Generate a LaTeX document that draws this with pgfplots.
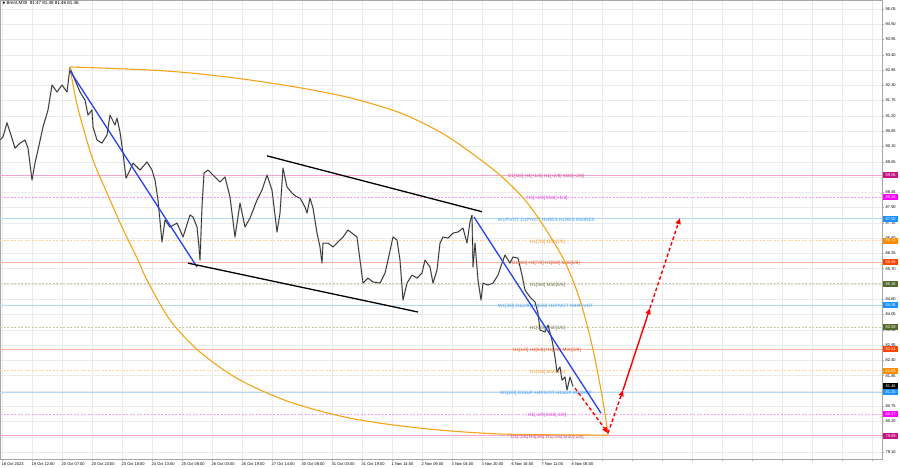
\documentclass[border=0pt]{standalone}
\usepackage{fontspec}
\setmainfont{Liberation Sans}
\newfontfamily\dejavu{DejaVu Sans}
\usepackage{pgfplots}
\usepackage{pgfplotstable}
\pgfplotsset{compat=1.18}
\usetikzlibrary{arrows.meta}

\definecolor{mvr}{HTML}{C71585}
\definecolor{mvrline}{HTML}{F5A3CF}
\definecolor{mvrtxt}{HTML}{D0479C}
\definecolor{mag}{HTML}{FF00FF}
\definecolor{magline}{HTML}{F59AF5}
\definecolor{magtxt}{HTML}{E23BE2}
\definecolor{dblue}{HTML}{1E90FF}
\definecolor{dblueline}{HTML}{B5D8FA}
\definecolor{dbluetxt}{HTML}{3C9CF5}
\definecolor{dor}{HTML}{FF8C00}
\definecolor{dorline}{HTML}{FFD3A0}
\definecolor{dortxt}{HTML}{F29A30}
\definecolor{ored}{HTML}{FF4500}
\definecolor{oredline}{HTML}{F8B3A0}
\definecolor{oredtxt}{HTML}{E8542A}
\definecolor{olv}{HTML}{556B2F}
\definecolor{olvline}{HTML}{C6CAAA}
\definecolor{olvtxt}{HTML}{6D7B45}
\definecolor{arc}{HTML}{F5A418}
\definecolor{tl}{HTML}{2742E6}

\pgfplotstableread{
x p
0 90.33
3 90.44
7 90.95
10 90.62
15 90.04
20 90.22
25 90.33
28 90.04
32 88.89
35 89.50
38 89.97
43 90.80
48 91.41
52 92.31
57 92.06
62 92.31
67 92.06
70 92.93
75 92.49
80 92.06
85 91.77
88 91.23
92 91.41
93 90.80
97 90.33
102 90.22
107 90.51
110 91.23
115 90.87
117 91.12
120 90.62
123 89.86
126 88.96
130 89.25
133 89.50
140 89.25
147 89.54
152 89.25
155 88.89
158 88.17
162 86.66
165 87.45
170 87.20
177 87.34
183 86.84
190 87.63
193 87.56
197 87.20
199 86.48
200 86.01
202 87.92
204 89.14
208 89.25
213 89.07
220 88.82
225 89.00
230 88.28
235 86.84
240 88.06
245 87.20
250 87.52
257 88.17
262 88.53
267 89.07
272 88.53
277 87.02
280 87.70
283 89.32
287 88.64
292 88.42
296 88.30
300 88.24
305 87.92
307 87.70
310 88.24
313 87.88
317 86.98
320 86.48
322 85.90
323 86.62
328 86.62
333 86.48
338 86.66
343 86.84
348 87.09
352 86.98
357 86.84
360 86.01
363 85.18
368 85.36
373 85.22
380 85.18
385 85.54
388 86.01
393 86.84
397 86.73
400 86.01
403 84.57
407 85.18
412 85.47
417 85.36
422 85.54
425 86.01
430 85.76
433 85.18
437 85.65
440 86.62
443 86.84
448 86.80
453 86.98
458 87.02
463 87.16
467 86.62
470 87.38
472 87.63
473 85.76
475 86.62
478 85.29
481 84.57
483 85.18
488 85.11
493 85.18
498 85.47
502 85.90
505 86.19
510 85.90
513 86.12
518 86.08
522 85.47
525 84.93
530 84.68
535 84.50
538 84.10
540 83.49
545 83.42
548 83.67
552 83.13
555 82.52
557 81.98
560 82.16
562 81.69
565 81.80
567 81.33
570 81.80
573 81.46
}\price

\begin{document}
\begin{tikzpicture}[font=\fontsize{4}{5}\selectfont]
\useasboundingbox (0,0) rectangle (900pt,468pt);
\begin{axis}[
  at={(0pt,9pt)}, anchor=south west, scale only axis,
  width=882pt, height=459pt,
  xmin=0, xmax=882, ymin=78.85, ymax=95.37,
  axis line style={draw=gray!70, line width=0.5pt},
  xtick={2,32,...,872},
  xticklabels={18 Oct 2023,19 Oct 12:00,20 Oct 07:00,20 Oct 23:00,23 Oct 18:00,24 Oct 13:00,25 Oct 08:00,26 Oct 03:00,26 Oct 19:00,27 Oct 14:00,30 Oct 08:00,31 Oct 03:00,31 Oct 19:00,1 Nov 14:00,2 Nov 09:00,3 Nov 04:00,3 Nov 20:00,6 Nov 16:00,7 Nov 11:00,8 Nov 06:00,{},{},{},{},{},{},{},{},{},{}},
  xticklabel style={anchor=north west, inner sep=0pt, yshift=-1.5pt, xshift=-0.5pt},
  ytick={79.10,79.65,80.20,80.75,81.30,81.85,82.40,82.95,83.50,84.05,84.60,85.15,85.70,86.25,86.80,87.35,87.90,88.45,89.00,89.55,90.10,90.65,91.20,91.75,92.30,92.85,93.40,93.95,94.50,95.05},
  ytick pos=right, xtick pos=lower,
  yticklabel pos=right,
  yticklabel style={anchor=west, inner sep=0pt, xshift=1.5pt,
    /pgf/number format/fixed, /pgf/number format/precision=2,
    /pgf/number format/fixed zerofill},
  /pgf/number format/assume math mode=true,
  grid=major, major grid style={draw=gray!16, line width=0.4pt},
  tick style={draw=gray!70, line width=0.4pt}, major tick length=2pt, tick align=outside,
  clip=true,
]
% --- level lines
\addplot[mvrline, line width=0.7pt] coordinates {(0,89.06) (882,89.06)};
\addplot[magline, line width=0.6pt, dash pattern=on 2pt off 1.5pt] coordinates {(0,88.28) (882,88.28)};
\addplot[dblueline, line width=0.8pt] coordinates {(0,87.50) (882,87.50)};
\addplot[dorline, line width=0.6pt, dash pattern=on 2pt off 1.5pt] coordinates {(0,86.71) (882,86.71)};
\addplot[oredline, line width=0.7pt] coordinates {(0,85.94) (882,85.94)};
\addplot[olvline, line width=0.6pt, dash pattern=on 2pt off 1.5pt] coordinates {(0,85.16) (882,85.16)};
\addplot[dblueline, line width=0.8pt] coordinates {(0,84.38) (882,84.38)};
\addplot[olvline, line width=0.6pt, dash pattern=on 2pt off 1.5pt] coordinates {(0,83.59) (882,83.59)};
\addplot[oredline, line width=0.7pt] coordinates {(0,82.81) (882,82.81)};
\addplot[dorline, line width=0.6pt, dash pattern=on 2pt off 1.5pt] coordinates {(0,82.03) (882,82.03)};
\addplot[dblueline, line width=0.8pt] coordinates {(0,81.25) (882,81.25)};
\addplot[magline, line width=0.6pt, dash pattern=on 2pt off 1.5pt] coordinates {(0,80.47) (882,80.47)};
\addplot[mvrline, line width=0.7pt] coordinates {(0,79.69) (882,79.69)};

% --- level labels
\begin{scope}[every node/.style={anchor=west, inner sep=0pt, yshift=-1.3pt, font=\fontsize{4.7}{5}\selectfont}]
\node[text=mvrtxt] at (axis cs:508,89.06) {D1[5/8] H4[+1/8] H1[+2/8] M30[+2/8]};
\node[text=magtxt] at (axis cs:527,88.28) {H1[+1/8] M30[+1/8]};
\node[text=dbluetxt] at (axis cs:498,87.50) {W1PIVOT D1PIVOT H4RES H1RES M30RES};
\node[text=dortxt] at (axis cs:530,86.71) {H1[7/8] M30[7/8]};
\node[text=oredtxt] at (axis cs:512,85.94) {D1[3/8] H4[7/8] H1[6/8] M30[6/8]};
\node[text=olvtxt] at (axis cs:530,85.16) {H1[5/8] M30[5/8]};
\node[text=dbluetxt] at (axis cs:498,84.38) {W1[3/8] D1[2/8] H4[6/8] H1PIVOT M30PIVOT};
\node[text=olvtxt] at (axis cs:530,83.59) {H1[3/8] M30[3/8]};
\node[text=oredtxt] at (axis cs:513,82.81) {D1[1/8] H4[5/8] H1[2/8] M30[2/8]};
\node[text=dortxt] at (axis cs:530,82.03) {H1[1/8] M30[1/8]};
\node[text=dbluetxt] at (axis cs:500,81.25) {W1[2/8] D1SUP H4PIVOT H1SUP M30SUP};
\node[text=magtxt] at (axis cs:528,80.47) {H1[-1/8] M30[-1/8]};
\node[text=mvrtxt] at (axis cs:511,79.69) {D1[-1/8] H4[3/8] H1[-2/8] M30[-2/8]};
\end{scope}

% --- price series
\addplot[gray!55, line width=1.5pt, line join=round] table[x=x, y=p] {\price};
\addplot[black!85, line width=0.65pt, line join=round] table[x=x, y=p] {\price};

% --- orange arcs
\addplot[arc, line width=1.1pt, smooth] coordinates {(70,92.96) (150,92.85) (200,92.71) (250,92.49) (300,92.21) (350,91.85) (400,91.31) (440,90.62) (470,89.90) (500,89.07) (525,88.17) (545,87.16) (565,85.94) (580,84.57) (592,82.95) (601,81.33) (606,80.25) (608,79.71)};
\addplot[arc, line width=1.1pt, smooth] coordinates {(70,92.93) (76,91.77) (83,90.80) (93,89.61) (107,88.42) (122,87.20) (138,86.01) (147,85.29) (170,83.85) (200,82.70) (240,81.69) (290,80.90) (350,80.32) (420,79.96) (500,79.75) (608,79.71)};

% --- trend lines
\addplot[tl, line width=1.3pt] coordinates {(70,92.82) (197,85.76)};
\addplot[tl, line width=1.3pt] coordinates {(474,87.56) (601,80.50)};
\addplot[black, line width=1.3pt] coordinates {(188,85.90) (418,84.14)};
\addplot[black, line width=1.3pt] coordinates {(267,89.76) (482,87.75)};

% --- red projection arrows
\addplot[red, line width=1.4pt, dash pattern=on 3.5pt off 2.5pt, -{Triangle[length=6pt,width=5pt]}] coordinates {(575,81.40) (608,79.78)};
\addplot[red, line width=1.4pt, dash pattern=on 3.5pt off 2.5pt, -{Triangle[length=6pt,width=5pt]}] coordinates {(608,79.78) (623,81.33)};
\addplot[red, line width=1.4pt, -{Triangle[length=6pt,width=5pt]}] coordinates {(623,81.33) (650,84.28)};
\addplot[red, line width=1.4pt, dash pattern=on 3.5pt off 2.5pt, -{Triangle[length=6pt,width=5pt]}] coordinates {(650,84.28) (680,87.52)};

% anchors for price boxes
\coordinate (b1) at (axis cs:882,89.06);
\coordinate (b2) at (axis cs:882,88.28);
\coordinate (b3) at (axis cs:882,87.50);
\coordinate (b4) at (axis cs:882,86.71);
\coordinate (b5) at (axis cs:882,85.94);
\coordinate (b6) at (axis cs:882,85.16);
\coordinate (b7) at (axis cs:882,84.38);
\coordinate (b8) at (axis cs:882,83.59);
\coordinate (b9) at (axis cs:882,82.81);
\coordinate (b10) at (axis cs:882,82.03);
\coordinate (b11) at (axis cs:882,81.46);
\coordinate (b12) at (axis cs:882,81.25);
\coordinate (b13) at (axis cs:882,80.47);
\coordinate (b14) at (axis cs:882,79.69);
\end{axis}

\begin{scope}[every node/.style={anchor=west, inner sep=0pt, minimum width=15pt, minimum height=6pt, text=white, font=\fontsize{4}{5}\selectfont}]
\node[fill=mvr] at ([xshift=1pt]b1) {89.06};
\node[fill=mag] at ([xshift=1pt]b2) {88.28};
\node[fill=dblue] at ([xshift=1pt]b3) {87.50};
\node[fill=dor] at ([xshift=1pt]b4) {86.71};
\node[fill=ored] at ([xshift=1pt]b5) {85.94};
\node[fill=olv] at ([xshift=1pt]b6) {85.16};
\node[fill=dblue] at ([xshift=1pt]b7) {84.38};
\node[fill=olv] at ([xshift=1pt]b8) {83.59};
\node[fill=ored] at ([xshift=1pt]b9) {82.81};
\node[fill=dor] at ([xshift=1pt]b10) {82.03};
\node[fill=dblue] at ([xshift=1pt]b12) {81.25};
\node[fill=black] at ([xshift=1pt]b11) {81.46};
\node[fill=mag] at ([xshift=1pt]b13) {80.47};
\node[fill=mvr] at ([xshift=1pt]b14) {79.69};
\end{scope}

\node[anchor=west, inner sep=0pt, font=\fontsize{4.5}{5}\selectfont] at (2.5pt,464.5pt) {{\dejavu\fontsize{3.5}{4}\selectfont ▼}\ Brent,M30\ \ 81.47 81.48 81.46 81.46};
\end{tikzpicture}
\end{document}
